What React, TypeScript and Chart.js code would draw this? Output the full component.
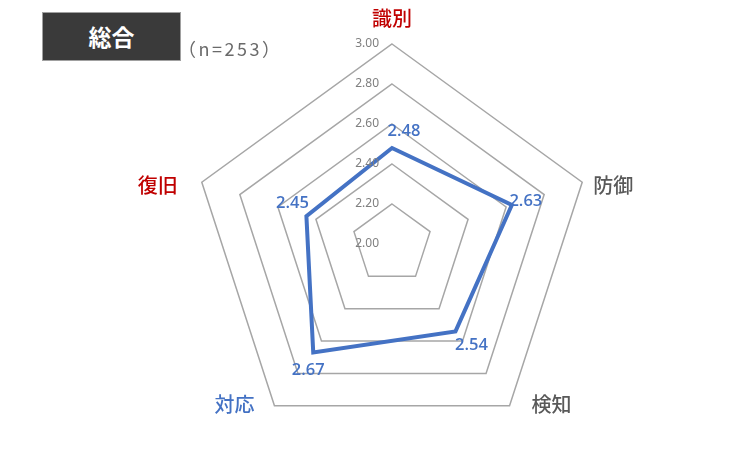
import React, { useEffect, useRef } from "react";
import { Chart, registerables } from "chart.js";

Chart.register(...registerables);

const categories = ["識別", "防御", "検知", "対応", "復旧"];
const values = [2.48, 2.63, 2.54, 2.67, 2.45];
const tickValues = [2.0, 2.2, 2.4, 2.6, 2.8, 3.0];
const title = "総合";
const sampleNote = "（n=253）";

const categoryColors = ["#C00000", "#595959", "#595959", "#4472C4", "#C00000"];
const SERIES_COLOR = "#4472C4";

// label placement rules (style/position only)
const labelPlacement = [
  { align: "center", dx: 0, dy: -26 },
  { align: "left", dx: 11, dy: 3 },
  { align: "left", dx: 22, dy: -1 },
  { align: "right", dx: -20, dy: -1 },
  { align: "right", dx: -24, dy: 3 },
];
const valueLabelOffsets = [
  [12, -17],
  [14, -4],
  [16, 14],
  [-5, 18],
  [-14, -13],
];

const overlayPlugin = {
  id: "overlay",
  afterDatasetsDraw(chart: any) {
    const scale = chart.scales.r;
    const ctx = chart.ctx;
    ctx.save();
    // tick labels
    ctx.font = "12px 'Noto Sans'";
    ctx.fillStyle = "#7f7f7f";
    ctx.textAlign = "right";
    ctx.textBaseline = "middle";
    tickValues.forEach((v) => {
      const y = scale.yCenter - scale.getDistanceFromCenterForValue(v);
      ctx.fillText(v.toFixed(2), scale.xCenter - 13, y);
    });
    // category labels
    ctx.font = "500 20px 'Noto Sans CJK JP'";
    ctx.textBaseline = "middle";
    categories.forEach((c, i) => {
      const p = scale.getPointPosition(i, scale.drawingArea);
      const pl = labelPlacement[i];
      ctx.fillStyle = categoryColors[i];
      ctx.textAlign = pl.align;
      ctx.fillText(c, p.x + pl.dx, p.y + pl.dy);
    });
    // value labels
    ctx.font = "600 16.5px 'Open Sans'";
    ctx.fillStyle = SERIES_COLOR;
    ctx.textAlign = "center";
    values.forEach((v, i) => {
      const p = scale.getPointPositionForValue(i, v);
      const o = valueLabelOffsets[i];
      ctx.fillText(v.toFixed(2), p.x + o[0], p.y + o[1]);
    });
    ctx.restore();
  },
};

export default function App() {
  const canvasRef = useRef<HTMLCanvasElement | null>(null);

  useEffect(() => {
    if (!canvasRef.current) return;
    const chart = new Chart(canvasRef.current, {
      type: "radar",
      data: {
        labels: categories,
        datasets: [
          {
            data: values,
            borderColor: SERIES_COLOR,
            borderWidth: 4,
            backgroundColor: "rgba(0,0,0,0)",
            fill: false,
            pointRadius: 0,
            pointHoverRadius: 0,
            borderJoinStyle: "miter",
          },
        ],
      },
      options: {
        responsive: false,
        animation: false,
        events: [],
        layout: { padding: { left: 192, right: 150, top: 44, bottom: 24 } },
        plugins: {
          legend: { display: false },
          tooltip: { enabled: false },
        },
        scales: {
          r: {
            min: 2,
            max: 3,
            ticks: { display: false, stepSize: 0.2 },
            pointLabels: { display: false },
            angleLines: { display: false },
            grid: { color: "#a6a6a6", lineWidth: 1.5 },
          },
        },
      },
      plugins: [overlayPlugin],
    });
    return () => chart.destroy();
  }, []);

  return (
    <div style={{ position: "absolute", left: 0, top: 0, width: 742, height: 468, background: "#fff" }}>
      <canvas ref={canvasRef} width={742} height={468} style={{ position: "absolute", left: 0, top: 0 }} />
      <div
        style={{
          position: "absolute",
          left: 42,
          top: 12,
          width: 137,
          height: 47,
          background: "#3a3a3a",
          border: "1px solid #a0a0a0",
          color: "#fff",
          fontFamily: "'Noto Sans CJK JP'",
          fontWeight: "bold",
          fontSize: 23,
          lineHeight: "47px",
          textAlign: "center",
        }}
      >
        {title}
      </div>
      <div
        style={{
          position: "absolute",
          left: 178,
          top: 35,
          color: "#6a6a6a",
          fontFamily: "'Noto Sans CJK JP'",
          fontSize: 18,
          lineHeight: "26px",
          letterSpacing: "2.5px",
          whiteSpace: "nowrap",
        }}
      >
        {sampleNote}
      </div>
    </div>
  );
}
